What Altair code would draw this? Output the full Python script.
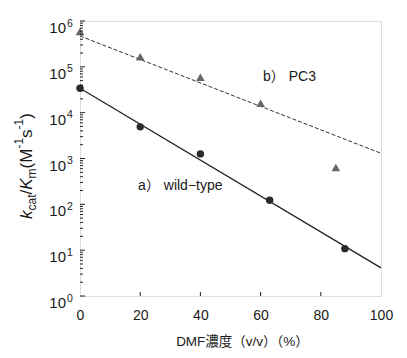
import altair as alt
import pandas as pd

# ---- data ----
dmf_wt = [0, 20, 40, 63, 88]
kcat_wt = [3.4e4, 4.9e3, 1.26e3, 123, 10.8]
dmf_pc3 = [0, 20, 40, 60, 85]
kcat_pc3 = [5.9e5, 1.66e5, 5.9e4, 1.6e4, 640]
line_x = [0, 100]
line_wt = [3.4e4, 4.1]
line_pc3 = [4.7e5, 1.3e3]
x_ticks = [0, 20, 40, 60, 80, 100]
x_inner_ticks = [20, 40, 60, 80]
y_major = [1, 10, 100, 1000, 10000, 100000, 1000000]
y_exp = ["0", "1", "2", "3", "4", "5", "6"]
y_minor = [m * 10 ** k for k in range(6) for m in range(2, 10)]
ann_text = ["a\uff09 wild\u2212type", "b\uff09 PC3"]
ann_x = [19.3, 60.8]
ann_y = [256, 6.0e4]

FONT = "Liberation Sans, Noto Sans CJK JP, sans-serif"
INK = "#1a1a1a"
W, H = 301, 275

xs = alt.Scale(domain=[0, 100], nice=False, zero=False)
ys = alt.Scale(type="log", domain=[1, 1e6], nice=False)

x_axis = alt.Axis(values=x_ticks, ticks=False, domain=False, grid=False,
                  labelFontSize=14, labelFont=FONT, labelColor=INK,
                  labelPadding=12, labelFlush=False,
                  title="DMF濃度（v/v）（%）", titleFont=FONT, titleFontSize=13.5,
                  titleFontWeight="normal", titleColor=INK,
                  titleX=162, titleY=49, titleBaseline="alphabetic")


def X(field):
    return alt.X(field, type="quantitative", scale=xs, axis=x_axis)


def Y(field):
    return alt.Y(field, type="quantitative", scale=ys, axis=None)


pts_wt = pd.DataFrame({"x": dmf_wt, "y": kcat_wt})
pts_pc3 = pd.DataFrame({"x": dmf_pc3, "y": kcat_pc3})
lines = pd.DataFrame({"x": line_x, "wt": line_wt, "pc3": line_pc3})

layers = []

layers.append(alt.Chart(lines).mark_line(color="#222", strokeWidth=1.3).encode(
    x=X("x"), y=Y("wt")))
layers.append(alt.Chart(lines).mark_line(color="#333", strokeWidth=1,
                                         strokeDash=[4, 2]).encode(
    x=X("x"), y=Y("pc3")))

layers.append(alt.Chart(pts_pc3).mark_point(shape="triangle-up", filled=True,
                                            color="#666666", opacity=1,
                                            size=75).encode(x=X("x"), y=Y("y")))
layers.append(alt.Chart(pts_wt).mark_point(shape="circle", filled=True,
                                           color="#2a2a2a", opacity=1,
                                           size=55).encode(x=X("x"), y=Y("y")))

# annotations
ann = pd.DataFrame({"x": ann_x, "y": ann_y, "t": ann_text})
layers.append(alt.Chart(ann).mark_text(align="left", baseline="middle",
                                       fontSize=14, font=FONT, color=INK).encode(
    x=X("x"), y=Y("y"), text="t:N"))

# inward ticks
ymaj = pd.DataFrame({"y": y_major, "e": y_exp})
ymin = pd.DataFrame({"y": y_minor})
xt = pd.DataFrame({"x": x_inner_ticks})
layers.append(alt.Chart(ymaj).mark_rule(color="#222", strokeWidth=1).encode(
    y=Y("y"), x=alt.value(0), x2=alt.value(5)))
layers.append(alt.Chart(ymin).mark_rule(color="#222", strokeWidth=1).encode(
    y=Y("y"), x=alt.value(0), x2=alt.value(3)))
layers.append(alt.Chart(xt).mark_rule(color="#222", strokeWidth=1).encode(
    x=X("x"), y=alt.value(H), y2=alt.value(H - 4)))

# y tick labels: "10" + superscript exponent
layers.append(alt.Chart(ymaj).mark_text(align="right", baseline="middle", dy=7,
                                        fontSize=15, font=FONT, color=INK).encode(
    y=Y("y"), x=alt.value(-14), text=alt.value("10")))
layers.append(alt.Chart(ymaj).mark_text(align="left", baseline="middle", dy=2.5,
                                        fontSize=10.5, font=FONT, color=INK).encode(
    y=Y("y"), x=alt.value(-13), text="e:N"))

# y title pieces (rotated)
pieces = [
    ("k", 17, "italic", 0),
    ("cat", 12, "normal", 4),
    ("/", 17, "normal", 0),
    ("K", 17, "italic", 0),
    ("m", 12, "normal", 4),
    ("(M", 17, "normal", 0),
    ("-1", 12, "normal", -9),
    ("s", 17, "normal", 0),
    ("-1", 12, "normal", -9),
    (")", 17, "normal", 0),
]
adv = {"k": 0.5, "c": 0.5, "a": 0.556, "t": 0.278, "/": 0.278, "K": 0.667,
       "m": 0.833, "(": 0.333, "M": 0.833, "-": 0.333, "1": 0.556, "s": 0.5,
       ")": 0.333}
base_x = -48
pos = 198
for txt, size, style, shift in pieces:
    layers.append(alt.Chart(pd.DataFrame({"t": [txt]})).mark_text(
        align="left", baseline="alphabetic", angle=270, fontSize=size,
        fontStyle=style, font=FONT, color=INK).encode(
        x=alt.value(base_x + shift), y=alt.value(pos), text="t:N"))
    pos -= sum(adv[c] for c in txt) * size

chart = alt.layer(*layers).properties(
    width=W, height=H, autosize="none",
    padding={"left": 72, "top": 13, "right": 18, "bottom": 54},
).configure_view(stroke="#222", strokeWidth=1).configure(background="white")

chart.save("out.html", embed_options={"renderer": "svg", "actions": False})
